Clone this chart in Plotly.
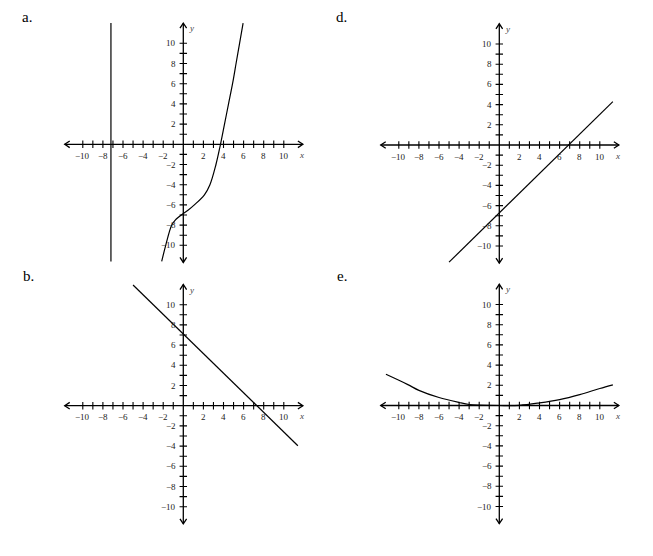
import plotly.graph_objects as go

W, H = 653, 556
PAD = 8                   # default body margin of the html page
FW, FH = W - 2 * PAD, H - 2 * PAD
PX_X, PX_Y = 10.05, 10.1  # pixels per unit on each axis
RX, RY = 13.0, 12.5       # half ranges of the hidden plotly axes

# panel letter and where its origin sits on the screen (pixels)
panels = [("a", 183.3, 144.3), ("d", 499.3, 145.0), ("b", 183.3, 405.7), ("e", 499.3, 405.5)]

ticks = [t for t in range(-10, 11) if t != 0]
tick_labels = [t for t in range(-10, 11, 2) if t != 0]
x_span = [-11.8, 11.9]
y_span = [-11.7, 12.0]

# curves
a_vert_x = [-7.2, -7.2]
a_vert_y = [12.0, -11.6]
a_cubic_x = [-2.15, -1.75, -1.15, -0.8, 0.0, 0.5, 1.1, 2.1, 2.65, 3.25, 3.7, 4.1, 4.5, 4.9, 5.25, 5.6, 5.95]
a_cubic_y = [-11.6, -10.0, -8.0, -7.5, -6.85, -6.5, -6.0, -5.0, -4.0, -2.0, 0.0, 2.0, 4.0, 6.0, 8.0, 10.0, 12.0]
d_line_x = [-5.0, 11.3]
d_line_y = [-11.6, 4.3]
b_line_x = [-5.0, 11.4]
b_line_y = [11.95, -3.96]
e_curve_x = [-11.28, -9.1, -8.0, -6.0, -4.0, -3.0, -2.0, 0.0, 2.0, 4.0, 6.0, 8.0, 10.0, 11.3]
e_curve_y = [3.09, 2.07, 1.5, 0.79, 0.3, 0.1, 0.03, 0.0, 0.02, 0.26, 0.59, 1.08, 1.68, 2.04]

curves = {
    "a": [(a_vert_x, a_vert_y, "linear"), (a_cubic_x, a_cubic_y, "spline")],
    "d": [(d_line_x, d_line_y, "linear")],
    "b": [(b_line_x, b_line_y, "linear")],
    "e": [(e_curve_x, e_curve_y, "spline")],
}

SERIF = "Liberation Serif, Times New Roman, serif"
fig = go.Figure()
annotations = []
layout = {}

for i, (name, ox, oy) in enumerate(panels):
    n = "" if i == 0 else str(i + 1)
    xa, ya = "x" + n, "y" + n
    ox, oy = ox - PAD, oy - PAD
    x0 = (ox - RX * PX_X) / FW
    x1 = (ox + RX * PX_X) / FW
    y0 = 1 - (oy + RY * PX_Y) / FH
    y1 = 1 - (oy - RY * PX_Y) / FH
    layout["xaxis" + n] = dict(domain=[x0, x1], range=[-RX, RX], visible=False, anchor=ya, fixedrange=True)
    layout["yaxis" + n] = dict(domain=[y0, y1], range=[-RY, RY], visible=False, anchor=xa, fixedrange=True)

    # axes with open arrow heads
    ah, aw = 0.5, 0.33
    ax_x = [x_span[0], x_span[1], None, 0, 0, None,
            x_span[0] + ah, x_span[0], x_span[0] + ah, None,
            x_span[1] - ah, x_span[1], x_span[1] - ah, None,
            -aw, 0, aw, None, -aw, 0, aw]
    ax_y = [0, 0, None, y_span[0], y_span[1], None,
            aw, 0, -aw, None,
            aw, 0, -aw, None,
            y_span[1] - ah, y_span[1], y_span[1] - ah, None,
            y_span[0] + ah, y_span[0], y_span[0] + ah]
    fig.add_trace(go.Scatter(x=ax_x, y=ax_y, mode="lines", xaxis=xa, yaxis=ya,
                             line=dict(color="black", width=1.3), hoverinfo="skip"))

    # tick marks
    tl = 0.37
    tx, ty = [], []
    for t in ticks:
        tx += [t, t, None, -tl, tl, None]
        ty += [-tl, tl, None, t, t, None]
    fig.add_trace(go.Scatter(x=tx, y=ty, mode="lines", xaxis=xa, yaxis=ya,
                             line=dict(color="black", width=1.1), hoverinfo="skip"))

    for cx, cy, shape in curves[name]:
        fig.add_trace(go.Scatter(x=cx, y=cy, mode="lines", xaxis=xa, yaxis=ya,
                                 line=dict(color="black", width=1.2, shape=shape, smoothing=1.0),
                                 hoverinfo="skip"))

    for t in tick_labels:
        lab = str(t).replace("-", "\u2212")
        annotations.append(dict(x=t, y=-1.15, xref=xa, yref=ya, text=lab, showarrow=False,
                                xanchor="center", yanchor="middle",
                                font=dict(family=SERIF, size=9, color="#222")))
        annotations.append(dict(x=-0.5, y=t, xref=xa, yref=ya, text=lab, showarrow=False,
                                xanchor="right", yanchor="middle",
                                font=dict(family=SERIF, size=9, color="#222")))
    annotations.append(dict(x=11.75, y=-1.05, xref=xa, yref=ya, text="<i>x</i>", showarrow=False,
                            xanchor="center", yanchor="middle",
                            font=dict(family=SERIF, size=9, color="#444")))
    annotations.append(dict(x=0.85, y=11.5, xref=xa, yref=ya, text="<i>y</i>", showarrow=False,
                            xanchor="center", yanchor="middle",
                            font=dict(family=SERIF, size=9, color="#444")))

    # panel letters; the top ones sit against the top edge of the figure
    lx = (21 if ox < 300 else 335) - PAD
    if oy < 300:
        annotations.append(dict(x=lx / FW, y=1, xref="paper", yref="paper", text=name + ".",
                                showarrow=False, xanchor="left", yanchor="top", borderpad=0,
                                font=dict(family=SERIF, size=15, color="black")))
    else:
        annotations.append(dict(x=lx / FW, y=1 - (276 - PAD) / FH, xref="paper", yref="paper",
                                text=name + ".", showarrow=False, xanchor="left", yanchor="middle",
                                font=dict(family=SERIF, size=15, color="black")))

fig.update_layout(width=FW, height=FH, margin=dict(l=0, r=0, t=0, b=0),
                  paper_bgcolor="white", plot_bgcolor="white", showlegend=False,
                  annotations=annotations, **layout)

fig.write_html("out.html")
